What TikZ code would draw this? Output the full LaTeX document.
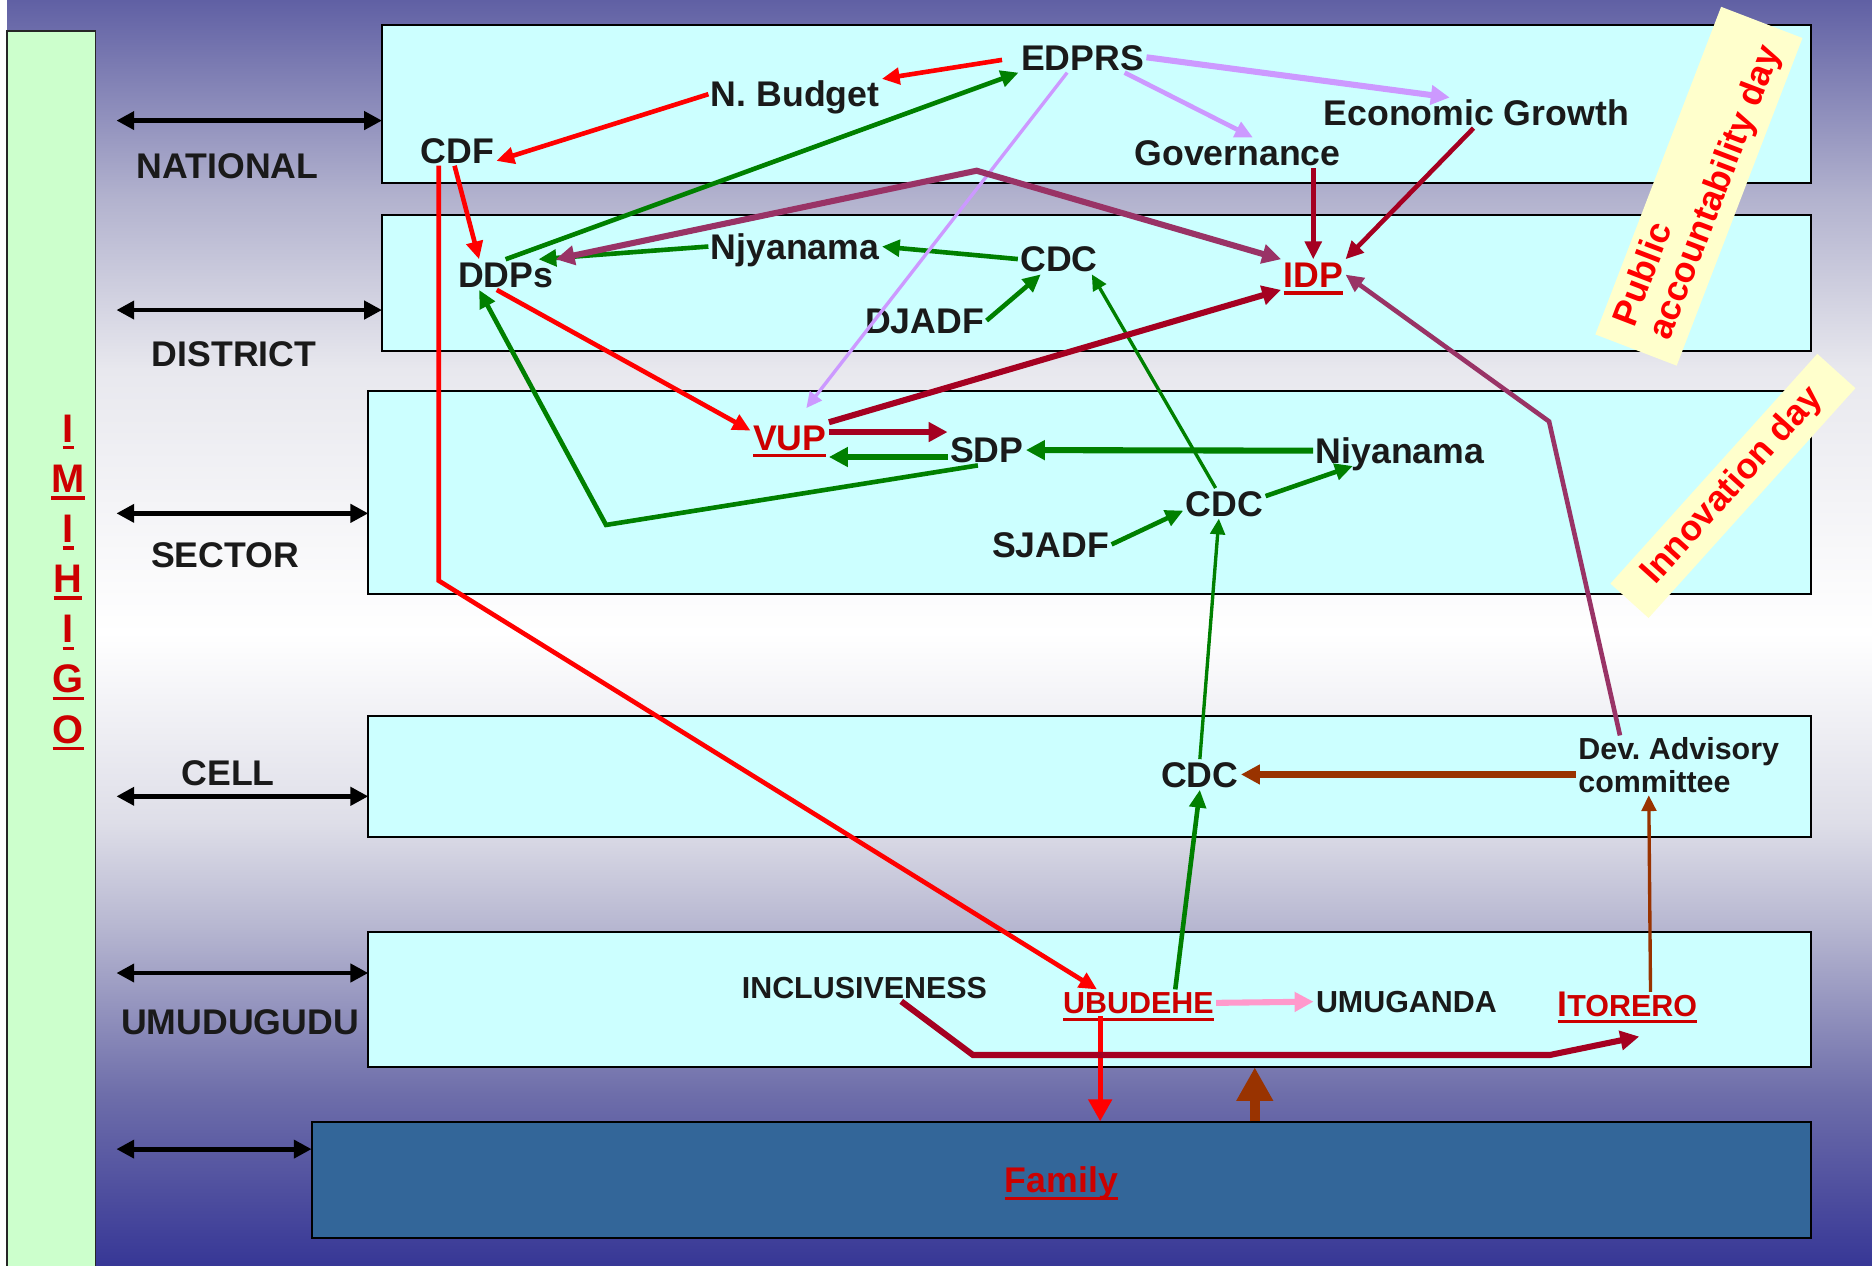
\documentclass[tikz,border=0pt]{standalone}
\usepackage{fontspec}
\setmainfont{Liberation Sans}
\usetikzlibrary{arrows.meta,calc}

\definecolor{bgtop}{RGB}{96,96,164}
\definecolor{bgA}{RGB}{178,178,206}
\definecolor{bgB}{RGB}{232,232,238}
\definecolor{bgC}{RGB}{222,222,232}
\definecolor{bgD}{RGB}{185,185,210}
\definecolor{bgE}{RGB}{110,110,170}
\definecolor{bgbot}{RGB}{55,55,150}
\definecolor{layercyan}{RGB}{204,255,255}
\definecolor{barfill}{RGB}{204,255,204}
\definecolor{notefill}{RGB}{255,255,204}
\definecolor{familyblue}{RGB}{51,102,153}
\definecolor{labred}{RGB}{204,0,0}
\definecolor{inkblack}{RGB}{26,26,26}
\definecolor{arrgreen}{RGB}{0,128,0}
\definecolor{arrlilac}{RGB}{204,153,255}
\definecolor{arrwine}{RGB}{165,0,33}
\definecolor{arrplum}{RGB}{153,51,102}
\definecolor{arrbrown}{RGB}{153,51,0}
\definecolor{arrpink}{RGB}{255,153,204}

\pgfdeclareverticalshading{bgfade}{100bp}{color(0bp)=(bgbot); color(25bp)=(bgbot);
  color(31.8bp)=(bgE); color(38.6bp)=(bgD); color(42.5bp)=(bgC); color(50bp)=(white);
  color(60.4bp)=(bgB); color(67.2bp)=(bgA); color(75bp)=(bgtop); color(100bp)=(bgtop)}

\newcommand{\redul}[1]{\vtop{\setbox0\hbox{#1}\dp0=0pt \box0 \kern1.8pt\hrule height 1.6pt}}
\frenchspacing

\begin{document}
\begin{tikzpicture}[x=0.02cm, y=-0.02cm,
  layer/.style={draw=black, line width=0.9pt, fill=layercyan},
  lbl/.style={font=\fontsize{17}{19}\selectfont\bfseries, text=inkblack, inner sep=1pt, text height=12.2pt, text depth=0pt},
  smlbl/.style={lbl, font=\fontsize{14.5}{16}\selectfont\bfseries, text height=10.4pt},
  redlbl/.style={lbl, text=labred},
  smred/.style={smlbl, text=labred},
  imlbl/.style={lbl, font=\fontsize{19}{21}\selectfont\bfseries, text=labred, text height=13.6pt, inner sep=0pt},
  devlbl/.style={font=\fontsize{14.5}{15.5}\selectfont\bfseries, text=inkblack, inner sep=1pt, align=left, anchor=north west},
  note/.style={fill=notefill, text=red, font=\fontsize{17}{18}\selectfont\bfseries, inner sep=2pt},
  familybox/.style={draw=black, line width=0.9pt, fill=familyblue, minimum width=25.12cm, minimum height=1.94cm,
    font=\fontsize{17}{19}\selectfont\bfseries, text=labred, text height=12.2pt, text depth=0pt},
  tier/.style={line width=2.3pt, black, <->, >={Triangle[length=8.5pt,width=8.5pt]}},
  link/.style={line width=2.2pt, ->, >={Triangle[length=8.5pt,width=7.8pt]}},
  thinlink/.style={line width=1.6pt, ->, >={Triangle[length=7.5pt,width=7pt]}},
  boldlink/.style={line width=2.9pt, ->, >={Triangle[length=9pt,width=9pt]}},
]
  \useasboundingbox (0,0) rectangle (1568,1060);
  \fill[white] (0,0) rectangle (1568,1060);
  \shade[shading=bgfade] (6,0) rectangle (1568,1060);

  % imihigo bar
  \draw[fill=barfill, draw=black!85, line width=0.8pt] (6,26) rectangle (80,1066);
  \foreach \ch [count=\k] in {I,M,I,H,I,G,O}
    \node[imlbl] (imihigo-\k) at (57,{316.5+42*\k}) {\redul{\ch}};

  % levels
  \foreach \nm/\xa/\ya/\yb/\yr/\txt/\lx/\ly in {
      national/320/21/153/101/NATIONAL/190.6/138.5,
      district/320/180/294/259.7/DISTRICT/196/296,
      sector/308.5/327.5/497.5/430/SECTOR/188.5/465,
      cell/308.5/600/701/667/CELL/191/647.5,
      umudugudu/308.5/781/894/815/UMUDUGUDU/201/855.7}
  {
    \draw[layer] (\xa,\ya) coordinate (\nm-nw) rectangle (1517,\yb) coordinate (\nm-se);
    \draw[tier] (97.5,\yr) -- (\xa,\yr);
    \node[lbl] (\nm-lbl) at (\lx,\ly) {\txt};
  }
  \draw[tier] (97.5,962.5) -- (261,962.5);
  \node[familybox] (family) at (889,988.5) {\redul{Family}};

  % days
  \node[note, rotate=69, minimum width=5.88cm, minimum height=1.46cm, align=left] (pubday) at (1423,156) {Public\\accountability day};
  \node[note, rotate=48, minimum width=5.18cm, minimum height=0.86cm] (innovday) at (1451.5,407) {Innovation day};

  % national
  \node[lbl] (edprs) at (906.7,48) {EDPRS};
  \node[lbl] (nbudget) at (666,78.9) {N. Budget};
  \node[lbl] (cdf) at (383,126) {CDF};
  \node[lbl] (ecogrowth) at (1236.5,94.5) {Economic Growth};
  \node[lbl] (governance) at (1036.6,128) {Governance};
  % district
  \node[lbl] (ddps) at (423.5,230) {DDPs};
  \node[lbl] (njyanama) at (666,206.5) {Njyanama};
  \node[lbl] (cdcdist) at (887,217) {CDC};
  \node[lbl] (djadf) at (774.5,268.5) {DJADF};
  \node[redlbl] (idp) at (1100,230) {\redul{IDP}};
  % sector
  \node[redlbl] (vup) at (661.5,366.5) {\redul{VUP}};
  \node[lbl] (sdp) at (826.5,377) {SDP};
  \node[lbl] (niyanama) at (1172.6,377.5) {Niyanama};
  \node[lbl] (cdcsect) at (1025.6,421.6) {CDC};
  \node[lbl] (sjadf) at (880,456) {SJADF};
  % cell
  \node[lbl] (cdccell) at (1005,648.7) {CDC};
  \node[devlbl] (devadv) at (1320,616) {Dev. Advisory\\committee};
  % umudugudu
  \node[smlbl] (inclus) at (724,827.5) {INCLUSIVENESS};
  \node[smred] (ubudehe) at (953.5,840) {\redul{UBUDEHE}};
  \node[smlbl] (umuganda) at (1178,839) {UMUGANDA};
  \node[smred] (itorero) at (1363,842) {\redul{{\fontsize{17}{19}\selectfont I}TORERO}};

  % red
  \draw[link, red, shorten <=2.8mm] (edprs.west) -- (nbudget.north east);
  \draw[link, red] (nbudget.west) -- (cdf.-15);
  \draw[link, red] (cdf.-100) -- (ddps.150);
  \coordinate (cdfturn) at (367.5,486.4);
  \draw[link, red] (cdf.south -| cdfturn) -- (cdfturn) -- (ubudehe.162);
  \draw[link, red] (ddps.-120) -- (vup.170);
  \draw[line width=2.4pt, red, -{Triangle[length=10.5pt,width=11pt]}] ($(ubudehe.south)+(-32,0)$) coordinate (ufam) -- (ufam |- family.north);

  % green
  \draw[link, arrgreen] (ddps.north) -- (edprs.south west);
  \draw[link, arrgreen] (njyanama.west) -- (ddps.25);
  \draw[link, arrgreen] (cdcdist.west) -- (njyanama.east);
  \draw[link, arrgreen] (djadf.east) -- (cdcdist.-140);
  \draw[thinlink, arrgreen] (cdcsect.120) -- (cdcdist.-25);
  \coordinate (sdpturn) at (507.6,439.7);
  \draw[link, arrgreen] (sdp.-120) -- (sdpturn) -- (ddps.-150);
  \draw[boldlink, arrgreen] (sdp.-170) -- (vup.south east |- sdp.-170);
  \draw[boldlink, arrgreen] (niyanama.west) -- (sdp.east);
  \draw[link, arrgreen] (cdcsect.10) -- (niyanama.-162);
  \draw[link, arrgreen] (sjadf.east) -- (cdcsect.-170);
  \draw[thinlink, arrgreen] (cdccell.north) -- (cdcsect.-110);
  \draw[link, arrgreen] (ubudehe.20) -- (cdccell.south);

  % lilac
  \draw[boldlink, arrlilac] (edprs.east) -- (ecogrowth.150);
  \draw[link, arrlilac] (edprs.-20) -- (governance.45);
  \draw[thinlink, arrlilac, shorten >=3mm] (edprs.-135) -- (vup.70);

  % wine
  \draw[link, arrwine] (idp.north |- governance.south) -- (idp.north);
  \draw[link, arrwine] (ecogrowth.-100) -- (idp.north east);
  \draw[boldlink, arrwine] (vup.north east) -- (idp.south west);
  \draw[boldlink, arrwine] (vup.8) -- (vup.8 -| sdp.west);
  \coordinate (incl1) at (815,883.7);
  \coordinate (incl2) at (1298,883.7);
  \draw[boldlink, arrwine] (inclus.-20) -- (incl1) -- (incl2) -- ($(itorero.south)+(10,15)$);

  % plum
  \coordinate (plumbend) at (818,143);
  \draw[boldlink, <->, arrplum] (ddps.north east) -- (plumbend) -- (idp.north west);
  \coordinate (devbend) at (1297.5,353);
  \draw[link, arrplum] (devadv.153) -- (devbend) -- (idp.east);

  % brown and pink
  \draw[boldlink, arrbrown] (devadv.west |- cdccell.east) -- (cdccell.east);
  \draw[thinlink, arrbrown] (itorero.30) -- (devadv.-135);
  \draw[line width=5pt, arrbrown, -{Triangle[length=16pt,width=16.5pt]}] ($(family.north)+(162,0)$) coordinate (fup) -- (fup |- umudugudu-se);
  \draw[boldlink, arrpink] (ubudehe.east) -- (umuganda.west);
\end{tikzpicture}
\end{document}
